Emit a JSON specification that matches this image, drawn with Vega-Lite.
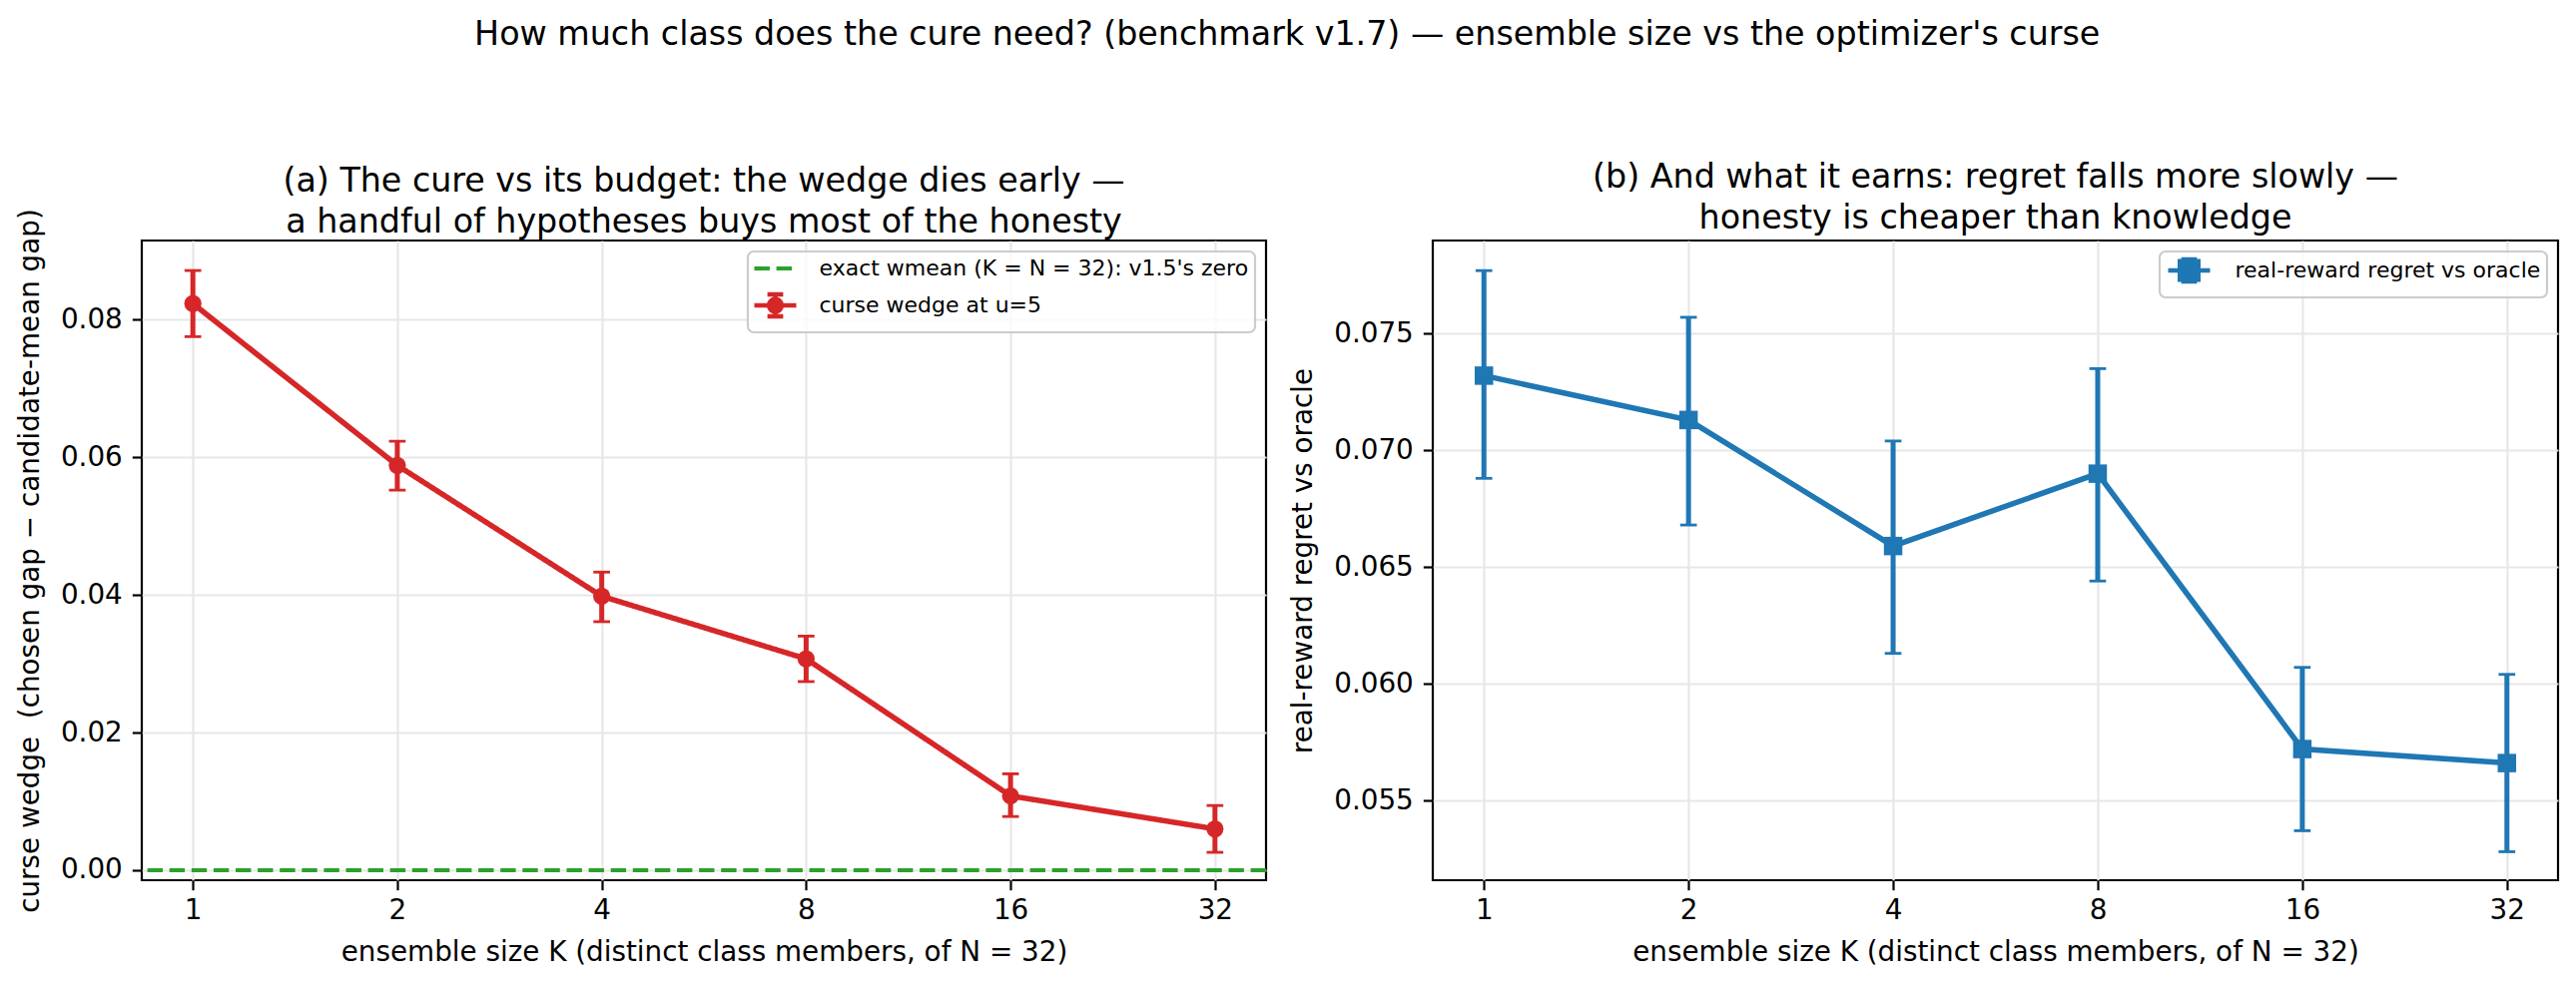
{
  "$schema": "https://vega.github.io/schema/vega-lite/v6.json",
  "background": "white",
  "padding": {"left": 15, "top": 18, "right": 19, "bottom": 10},
  "title": {
    "text": "How much class does the cure need? (benchmark v1.7) — ensemble size vs the optimizer's curse",
    "fontSize": 33.3,
    "fontWeight": "normal",
    "font": "DejaVu Sans",
    "color": "black",
    "anchor": "middle",
    "frame": "bounds",
    "offset": 107
  },
  "datasets": {
    "wedge": [
      {"K": 1, "value": 0.0823, "lo": 0.0775, "hi": 0.0871, "series": "curse wedge at u=5"},
      {"K": 2, "value": 0.0588, "lo": 0.0552, "hi": 0.0623, "series": "curse wedge at u=5"},
      {"K": 4, "value": 0.0398, "lo": 0.0361, "hi": 0.0433, "series": "curse wedge at u=5"},
      {"K": 8, "value": 0.0307, "lo": 0.0274, "hi": 0.0340, "series": "curse wedge at u=5"},
      {"K": 16, "value": 0.0108, "lo": 0.0078, "hi": 0.0140, "series": "curse wedge at u=5"},
      {"K": 32, "value": 0.0060, "lo": 0.0026, "hi": 0.0094, "series": "curse wedge at u=5"}
    ],
    "zero": [
      {"value": 0, "series": "exact wmean (K = N = 32): v1.5's zero"}
    ],
    "regret": [
      {"K": 1, "value": 0.0732, "lo": 0.0688, "hi": 0.0777, "series": "real-reward regret vs oracle"},
      {"K": 2, "value": 0.0713, "lo": 0.0668, "hi": 0.0757, "series": "real-reward regret vs oracle"},
      {"K": 4, "value": 0.0659, "lo": 0.0613, "hi": 0.0704, "series": "real-reward regret vs oracle"},
      {"K": 8, "value": 0.0690, "lo": 0.0644, "hi": 0.0735, "series": "real-reward regret vs oracle"},
      {"K": 16, "value": 0.0572, "lo": 0.0537, "hi": 0.0607, "series": "real-reward regret vs oracle"},
      {"K": 32, "value": 0.0566, "lo": 0.0528, "hi": 0.0604, "series": "real-reward regret vs oracle"}
    ]
  },
  "bounds": "flush",
  "spacing": 167,
  "resolve": {
    "scale": {"color": "independent", "strokeDash": "independent", "x": "independent", "y": "independent"},
    "legend": {"color": "independent", "strokeDash": "independent"}
  },
  "hconcat": [
    {
      "width": 1126,
      "height": 641,
      "title": {
        "text": ["(a) The cure vs its budget: the wedge dies early —", "a handful of hypotheses buys most of the honesty"],
        "fontSize": 33.3,
        "fontWeight": "normal",
        "lineHeight": 41.7,
        "anchor": "middle",
        "baseline": "bottom",
        "offset": -65,
        "color": "black"
      },
      "encoding": {
        "x": {
          "field": "K",
          "type": "quantitative",
          "scale": {"type": "log", "base": 2, "domain": [0.8409, 38.05], "nice": false},
          "axis": {"values": [1, 2, 4, 8, 16, 32], "format": "d", "title": "ensemble size K (distinct class members, of N = 32)"}
        }
      },
      "layer": [
        {
          "data": {"name": "zero"},
          "mark": {"type": "rule", "strokeWidth": 4.2},
          "encoding": {
            "x": null,
            "y": {
              "field": "value",
              "type": "quantitative",
              "scale": {"domain": [-0.00145, 0.09146], "nice": false, "zero": false},
              "axis": {"values": [0, 0.02, 0.04, 0.06, 0.08], "format": ".2f", "title": "curse wedge \u00a0(chosen gap − candidate-mean gap)"}
            },
            "color": {
              "field": "series",
              "type": "nominal",
              "scale": {"domain": ["exact wmean (K = N = 32): v1.5's zero", "curse wedge at u=5"], "range": ["#2ca02c", "#d62728"]},
              "legend": {
                "title": null,
                "orient": "top-right",
                "offset": 11,
                "labelFontSize": 22,
                "labelColor": "black",
                "labelLimit": 0,
                "padding": 6,
                "rowPadding": 5,
                "symbolSize": 441,
                "labelOffset": 43.5,
                "fillColor": "rgba(255,255,255,0.8)",
                "strokeColor": "#cccccc",
                "cornerRadius": 6,
                "encode": {
                  "legend": {"update": {"strokeWidth": {"value": 2.2}}},
                  "symbols": {
                    "update": {
                      "shape": {"signal": "datum.value === 'curse wedge at u=5' ? 'M-1,0H3M1,-1.05V1.05M0.25,-1.05H1.75M0.25,1.05H1.75M0.4,0A0.6,0.6 0 1 1 1.6,0A0.6,0.6 0 1 1 0.4,0Z' : 'M-1,0H3'"},
                      "fill": {"signal": "datum.value === 'curse wedge at u=5' ? '#d62728' : 'transparent'"},
                      "strokeWidth": {"signal": "datum.value === 'curse wedge at u=5' ? 4.5 : 4.2"},
                      "opacity": {"value": 1}
                    }
                  }
                }
              }
            },
            "strokeDash": {
              "field": "series",
              "type": "nominal",
              "scale": {"domain": ["exact wmean (K = N = 32): v1.5's zero", "curse wedge at u=5"], "range": [[15.4, 6.7], [1, 0]]}
            }
          }
        },
        {
          "data": {"name": "wedge"},
          "mark": {"type": "rule", "strokeWidth": 5, "color": "#d62728"},
          "encoding": {
            "y": {"field": "lo", "type": "quantitative"},
            "y2": {"field": "hi"}
          }
        },
        {
          "data": {"name": "wedge"},
          "mark": {"type": "tick", "orient": "horizontal", "size": 16.7, "thickness": 2.8, "color": "#d62728", "opacity": 1},
          "encoding": {"y": {"field": "lo", "type": "quantitative"}}
        },
        {
          "data": {"name": "wedge"},
          "mark": {"type": "tick", "orient": "horizontal", "size": 16.7, "thickness": 2.8, "color": "#d62728", "opacity": 1},
          "encoding": {"y": {"field": "hi", "type": "quantitative"}}
        },
        {
          "data": {"name": "wedge"},
          "mark": {"type": "line", "strokeWidth": 5.5},
          "encoding": {
            "y": {"field": "value", "type": "quantitative"},
            "color": {"field": "series", "type": "nominal"},
            "strokeDash": {"field": "series", "type": "nominal"}
          }
        },
        {
          "data": {"name": "wedge"},
          "mark": {"type": "point", "shape": "circle", "filled": true, "size": 295, "color": "#d62728", "opacity": 1},
          "encoding": {"y": {"field": "value", "type": "quantitative"}}
        }
      ]
    },
    {
      "width": 1127,
      "height": 641,
      "data": {"name": "regret"},
      "title": {
        "text": ["(b) And what it earns: regret falls more slowly —", "honesty is cheaper than knowledge"],
        "fontSize": 33.3,
        "fontWeight": "normal",
        "lineHeight": 41.7,
        "anchor": "middle",
        "baseline": "bottom",
        "offset": -28.5,
        "color": "black"
      },
      "encoding": {
        "x": {
          "field": "K",
          "type": "quantitative",
          "scale": {"type": "log", "base": 2, "domain": [0.8409, 38.05], "nice": false},
          "axis": {"values": [1, 2, 4, 8, 16, 32], "format": "d", "title": "ensemble size K (distinct class members, of N = 32)"}
        }
      },
      "layer": [
        {
          "mark": {"type": "rule", "strokeWidth": 5, "color": "#1f77b4"},
          "encoding": {
            "y": {
              "field": "lo",
              "type": "quantitative",
              "scale": {"domain": [0.05158, 0.07899], "nice": false, "zero": false},
              "axis": {"values": [0.055, 0.06, 0.065, 0.07, 0.075], "format": ".3f", "title": "real-reward regret vs oracle"}
            },
            "y2": {"field": "hi"}
          }
        },
        {
          "mark": {"type": "tick", "orient": "horizontal", "size": 16.7, "thickness": 2.8, "color": "#1f77b4", "opacity": 1},
          "encoding": {"y": {"field": "lo", "type": "quantitative"}}
        },
        {
          "mark": {"type": "tick", "orient": "horizontal", "size": 16.7, "thickness": 2.8, "color": "#1f77b4", "opacity": 1},
          "encoding": {"y": {"field": "hi", "type": "quantitative"}}
        },
        {
          "mark": {"type": "line", "strokeWidth": 5.5},
          "encoding": {
            "y": {"field": "value", "type": "quantitative"},
            "color": {
              "field": "series",
              "type": "nominal",
              "scale": {"domain": ["real-reward regret vs oracle"], "range": ["#1f77b4"]},
              "legend": {
                "title": null,
                "orient": "top-right",
                "offset": 11,
                "labelFontSize": 22,
                "labelColor": "black",
                "labelLimit": 0,
                "padding": 6,
                "rowPadding": 2,
                "symbolSize": 441,
                "labelOffset": 43.5,
                "fillColor": "rgba(255,255,255,0.8)",
                "strokeColor": "#cccccc",
                "cornerRadius": 6,
                "encode": {
                  "legend": {"update": {"strokeWidth": {"value": 2.2}}},
                  "symbols": {
                    "update": {
                      "shape": {"value": "M-1,0H3M1,-1.05V1.05M0.25,-1.05H1.75M0.25,1.05H1.75M0.12,-0.88H1.88V0.88H0.12Z"},
                      "fill": {"value": "#1f77b4"},
                      "strokeWidth": {"value": 4.5},
                      "opacity": {"value": 1}
                    }
                  }
                }
              }
            }
          }
        },
        {
          "mark": {"type": "point", "shape": "square", "filled": true, "size": 342, "color": "#1f77b4", "opacity": 1},
          "encoding": {"y": {"field": "value", "type": "quantitative"}}
        }
      ]
    }
  ],
  "config": {
    "font": "DejaVu Sans",
    "view": {"stroke": "black", "strokeWidth": 2.2},
    "axis": {
      "domain": false,
      "ticks": true,
      "tickColor": "black",
      "tickSize": 9.7,
      "tickWidth": 2.2,
      "labelFontSize": 27.8,
      "labelColor": "black",
      "labelPadding": 10,
      "titleFontSize": 27.8,
      "titleFontWeight": "normal",
      "titleColor": "black",
      "titlePadding": 16,
      "grid": true,
      "gridColor": "#e7e7e7",
      "gridWidth": 2.2
    },
    "axisX": {"titlePadding": 14, "labelPadding": 7},
    "legend": {"labelFont": "DejaVu Sans"}
  }
}
